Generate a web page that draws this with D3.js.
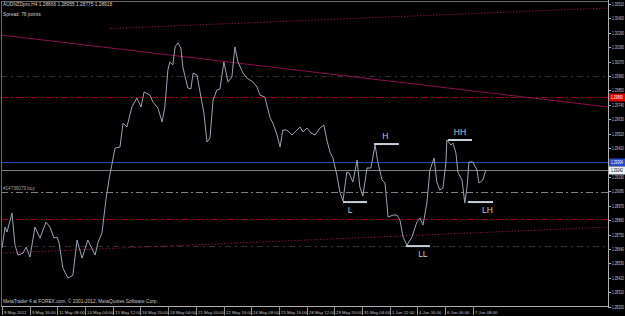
<!DOCTYPE html>
<html><head><meta charset="utf-8">
<script src="https://cdn.jsdelivr.net/npm/d3@7"></script>
<style>html,body{margin:0;padding:0;background:#000;overflow:hidden}svg{display:block}</style>
</head><body><svg id="c" width="625" height="316"></svg>
<script>
// ---- data ----
const bars = [0,1.1,1.8,3.6,4.7,5.8,7.6,8.7,10.1,11.9,13.7,15.9,17.3,18.8,19.9,20.6,22.0,23.8,25.6,27.1,28.9,31.0,33.6,34.7,36.1,37.5,38.6,40.8,42.6,43.7,45.1,46.9,48.7,50.2,51.3,53.4,54.5,56.3,57.8,58.8,59.9,60.6,61.7,62.5,63.5,64.6,65.3,66.4,67.1,68.2,69.0,70.4,71.5,72.9,74.0,75.1,76.2,77.6,78.7,80.1,81.6,83.0,84.1,85.2,87.0,88.4,90.6,92.1,93.1,94.9,96.8,97.8,99.3,100.4,101.4,102.9,104.7,106.5,107.6,108.7,110.1,111.6,113.0,114.8,116.2,117.3,118.4,119.5,120.9,122.0,123.1,124.5,125.3,126.7,128.2,129.2,130.3,131.8,133.2,134.7,135.7,137.2,138.3,139.4,141.2,142.6,143.7,144.8,146.2,148.0,149.8,150.9,152.0,153.4,154.5,156.0,157.0,158.1,159.2,160.3,160.6,162.1,162.8,163.9,164.6,166.1,167.1,167.9,168.6,170.0,171.5,172.2,173.6,174.7];
const prices = [1.28647,1.28807,1.28769,1.28914,1.28669,1.28593,1.28608,1.28654,1.28578,1.28807,1.28723,1.28845,1.28807,1.28723,1.28731,1.28685,1.28494,1.28417,1.28440,1.28708,1.28570,1.28708,1.28593,1.28692,1.28761,1.29013,1.29166,1.29410,1.29418,1.29601,1.29571,1.29724,1.29792,1.29724,1.29838,1.29815,1.29762,1.29716,1.29609,1.29724,1.30006,1.30067,1.30045,1.30182,1.30213,1.30174,1.30029,1.29930,1.29869,1.29861,1.29983,1.29968,1.29838,1.29678,1.29456,1.29487,1.29777,1.29854,1.29861,1.30067,1.29915,1.29953,1.30182,1.30067,1.29983,1.29945,1.29915,1.29876,1.29815,1.29800,1.29640,1.29601,1.29510,1.29418,1.29548,1.29548,1.29510,1.29548,1.29571,1.29533,1.29563,1.29525,1.29510,1.29563,1.29586,1.29472,1.29380,1.29334,1.29204,1.29074,1.29006,1.29227,1.29220,1.29151,1.29319,1.29113,1.29044,1.29258,1.29258,1.29433,1.29304,1.29166,1.29143,1.28883,1.28899,1.28899,1.28860,1.28731,1.28669,1.28731,1.28845,1.28876,1.28822,1.28990,1.29242,1.29334,1.29151,1.29090,1.29105,1.29304,1.29472,1.29433,1.29449,1.29372,1.29227,1.29166,1.28990,1.29113,1.29304,1.29304,1.29242,1.29143,1.29166,1.29242];

const priceTicks = d3.range(22).map(i => +(1.30510 - 0.0011 * i).toFixed(5));
const timeLabels = ["8 May 2012","9 May 16:00","11 May 08:00","14 May 04:00","15 May 12:00","16 May 20:00","18 May 04:00","21 May 00:00","22 May 16:00","24 May 08:00","25 May 16:00","28 May 12:00","29 May 20:00","31 May 04:00","1 Jun 12:00","4 Jun 16:00","6 Jun 00:00","7 Jun 08:00"];
const timeLabelBars = d3.range(0, 180, 10);

const swingNames = ["L","H","LL","HH","LH"];
const swingPrices = [1.28998,1.29441,1.28662,1.29472,1.28998];
const swingStartBar = [123.1,134.3,145.8,161.0,168.2];
const swingEndBar = [131.8,143.3,154.5,169.7,177.3];

const levelNames = ["resistance","blue","bid","buy","support","gridHigh","gridLow"];
const levelPrices = [1.29800,1.29304,1.29242,1.29074,1.28868,1.29960,1.28662];

const trendNames = ["falling","upperChannel","lowerChannel"];
const trendStartBar = [-0.7,39.0,-0.7];
const trendStartPrice = [1.30274,1.30323,1.28608];
const trendEndBar = [218.8,218.8,218.8];
const trendEndPrice = [1.29724,1.30480,1.28807];

const titleText = "AUDNZDpro,H4  1.28866 1.28955 1.28775 1.28918";
const spreadText = "Spread: 76 points";
const footerText = "MetaTrader 4 at FOREX.com, \u00a9 2001-2012, MetaQuotes Software Corp.";
const orderText = "#14736079 buy";

// ---- drawing ----
const W = 625, H = 316;
const plotRight = 608, plotBottom = 306;
const svg = d3.select("#c");
svg.append("rect").attr("width", W).attr("height", H).attr("fill", "#000");

const x = d3.scaleLinear().domain([0, 218.8]).range([2, plotRight]);
const y = d3.scaleLinear().domain([1.28200, 1.30510]).range([306.6, 4]);
const font = "'Liberation Sans', Arial, sans-serif";

const plot = svg.append("g");
svg.append("clipPath").attr("id","pc").append("rect")
  .attr("x",1).attr("y",1).attr("width",plotRight-1).attr("height",plotBottom-1);
plot.attr("clip-path","url(#pc)");

const levelStyle = {
  resistance:{c:"#a00018",d:"7,3,2,3"},
  blue:{c:"#2848b8",d:null},
  bid:{c:"#808080",d:null},
  buy:{c:"#808080",d:"7,3,2,3"},
  support:{c:"#a00018",d:"7,3,2,3"},
  gridHigh:{c:"#333",d:"6,4,2,4"},
  gridLow:{c:"#333",d:"6,4,2,4"}
};
levelNames.forEach((n,i)=>{
  const s = levelStyle[n];
  const yy = Math.round(y(levelPrices[i]))+0.5;
  plot.append("line").attr("x1",1).attr("x2",plotRight).attr("y1",yy).attr("y2",yy)
    .attr("stroke",s.c).attr("stroke-width",1).attr("stroke-dasharray",s.d);
});

const trendStyle = {falling:{c:"#8a1050",d:null}, upperChannel:{c:"#a0104a",d:"1.2,2"}, lowerChannel:{c:"#a0104a",d:"1.2,2"}};
trendNames.forEach((n,i)=>{
  const s = trendStyle[n];
  plot.append("line")
    .attr("x1",x(trendStartBar[i])).attr("y1",y(trendStartPrice[i]))
    .attr("x2",x(trendEndBar[i])).attr("y2",y(trendEndPrice[i]))
    .attr("stroke",s.c).attr("stroke-width",1).attr("stroke-dasharray",s.d);
});

const pts = bars.map((b,i)=>[b,prices[i]]);
plot.append("path").datum(pts)
  .attr("d", d3.line().x(d=>x(d[0])).y(d=>y(d[1])))
  .attr("fill","none").attr("stroke","#9aa4b6").attr("stroke-width",1);

const labelDx = {L:-5,H:-1,LL:5,HH:0,LH:7};
swingNames.forEach((n,i)=>{
  const yy = y(swingPrices[i]);
  plot.append("line").attr("x1",x(swingStartBar[i])).attr("x2",x(swingEndBar[i]))
    .attr("y1",yy).attr("y2",yy).attr("stroke","#c8d0dc").attr("stroke-width",2);
  const above = (n==="H"||n==="HH");
  plot.append("text").text(n)
    .attr("x",(x(swingStartBar[i])+x(swingEndBar[i]))/2 + labelDx[n])
    .attr("y", above ? yy-5 : yy+11)
    .attr("text-anchor","middle").attr("font-family",font).attr("font-size","8.5px")
    .attr("fill","#c4c8d0");
});

plot.append("text").text(orderText).attr("x",3).attr("y",y(levelPrices[3])-2)
  .attr("font-family",font).attr("font-size","4.6px").attr("fill","#a0a0a0");

// frame
svg.append("line").attr("x1",1.5).attr("x2",1.5).attr("y1",1).attr("y2",plotBottom).attr("stroke","#6a6a6a");
svg.append("line").attr("x1",1).attr("x2",plotRight).attr("y1",1.5).attr("y2",1.5).attr("stroke","#6a6a6a");
svg.append("line").attr("x1",plotRight+0.5).attr("x2",plotRight+0.5).attr("y1",0).attr("y2",plotBottom).attr("stroke","#b0b0b0");
svg.append("line").attr("x1",1).attr("x2",plotRight+1).attr("y1",plotBottom+0.5).attr("y2",plotBottom+0.5).attr("stroke","#b0b0b0");

// price axis: small labels stretched vertically so they fit the narrow strip
const axisFont = 3.3;
function priceLabel(g, txt, xx, yy, fill){
  g.append("text").text(txt)
    .attr("transform", `translate(${xx},${yy}) scale(1,1.45)`)
    .attr("dominant-baseline","middle").attr("font-family",font).attr("font-size",axisFont+"px").attr("fill",fill);
}
const yAxis = svg.append("g");
priceTicks.forEach(p=>{
  const yy = Math.round(y(p))+0.5;
  yAxis.append("line").attr("x1",plotRight).attr("x2",plotRight+3).attr("y1",yy).attr("y2",yy).attr("stroke","#b0b0b0");
  priceLabel(yAxis, p.toFixed(5), plotRight+4, yy, "#c8c8c8");
});
const boxStyle = {resistance:{bg:"#e00000",fg:"#fff"}, blue:{bg:"#2848c8",fg:"#fff"}, bid:{bg:"#f0f0f0",fg:"#000"}};
levelNames.forEach((n,i)=>{
  const s = boxStyle[n]; if(!s) return;
  const yy = Math.round(y(levelPrices[i]))+0.5;
  yAxis.append("rect").attr("x",plotRight+1).attr("y",yy-4).attr("width",W-plotRight-1).attr("height",8).attr("fill",s.bg);
  priceLabel(yAxis, levelPrices[i].toFixed(5), plotRight+3, yy, s.fg);
});

// time axis
const xAxis = svg.append("g");
timeLabels.forEach((t,i)=>{
  const xx = Math.round(x(timeLabelBars[i]))+0.5;
  xAxis.append("line").attr("x1",xx).attr("x2",xx).attr("y1",plotBottom).attr("y2",plotBottom+9).attr("stroke","#909090");
  xAxis.append("text").text(t).attr("x",xx+1.5).attr("y",313)
    .attr("dominant-baseline","middle").attr("font-family",font).attr("font-size","4.3px").attr("fill","#c8c8c8");
});

svg.append("text").text(titleText).attr("x",3).attr("y",5).attr("dominant-baseline","middle")
  .attr("font-family",font).attr("font-size","4.8px").attr("fill","#d0d0d0");
svg.append("text").text(spreadText).attr("x",3).attr("y",15).attr("dominant-baseline","middle")
  .attr("font-family",font).attr("font-size","4.8px").attr("fill","#d0d0d0");
svg.append("text").text(footerText).attr("x",3).attr("y",302).attr("dominant-baseline","middle")
  .attr("font-family",font).attr("font-size","4.8px").attr("fill","#c8c8c8");
</script>
</body></html>
